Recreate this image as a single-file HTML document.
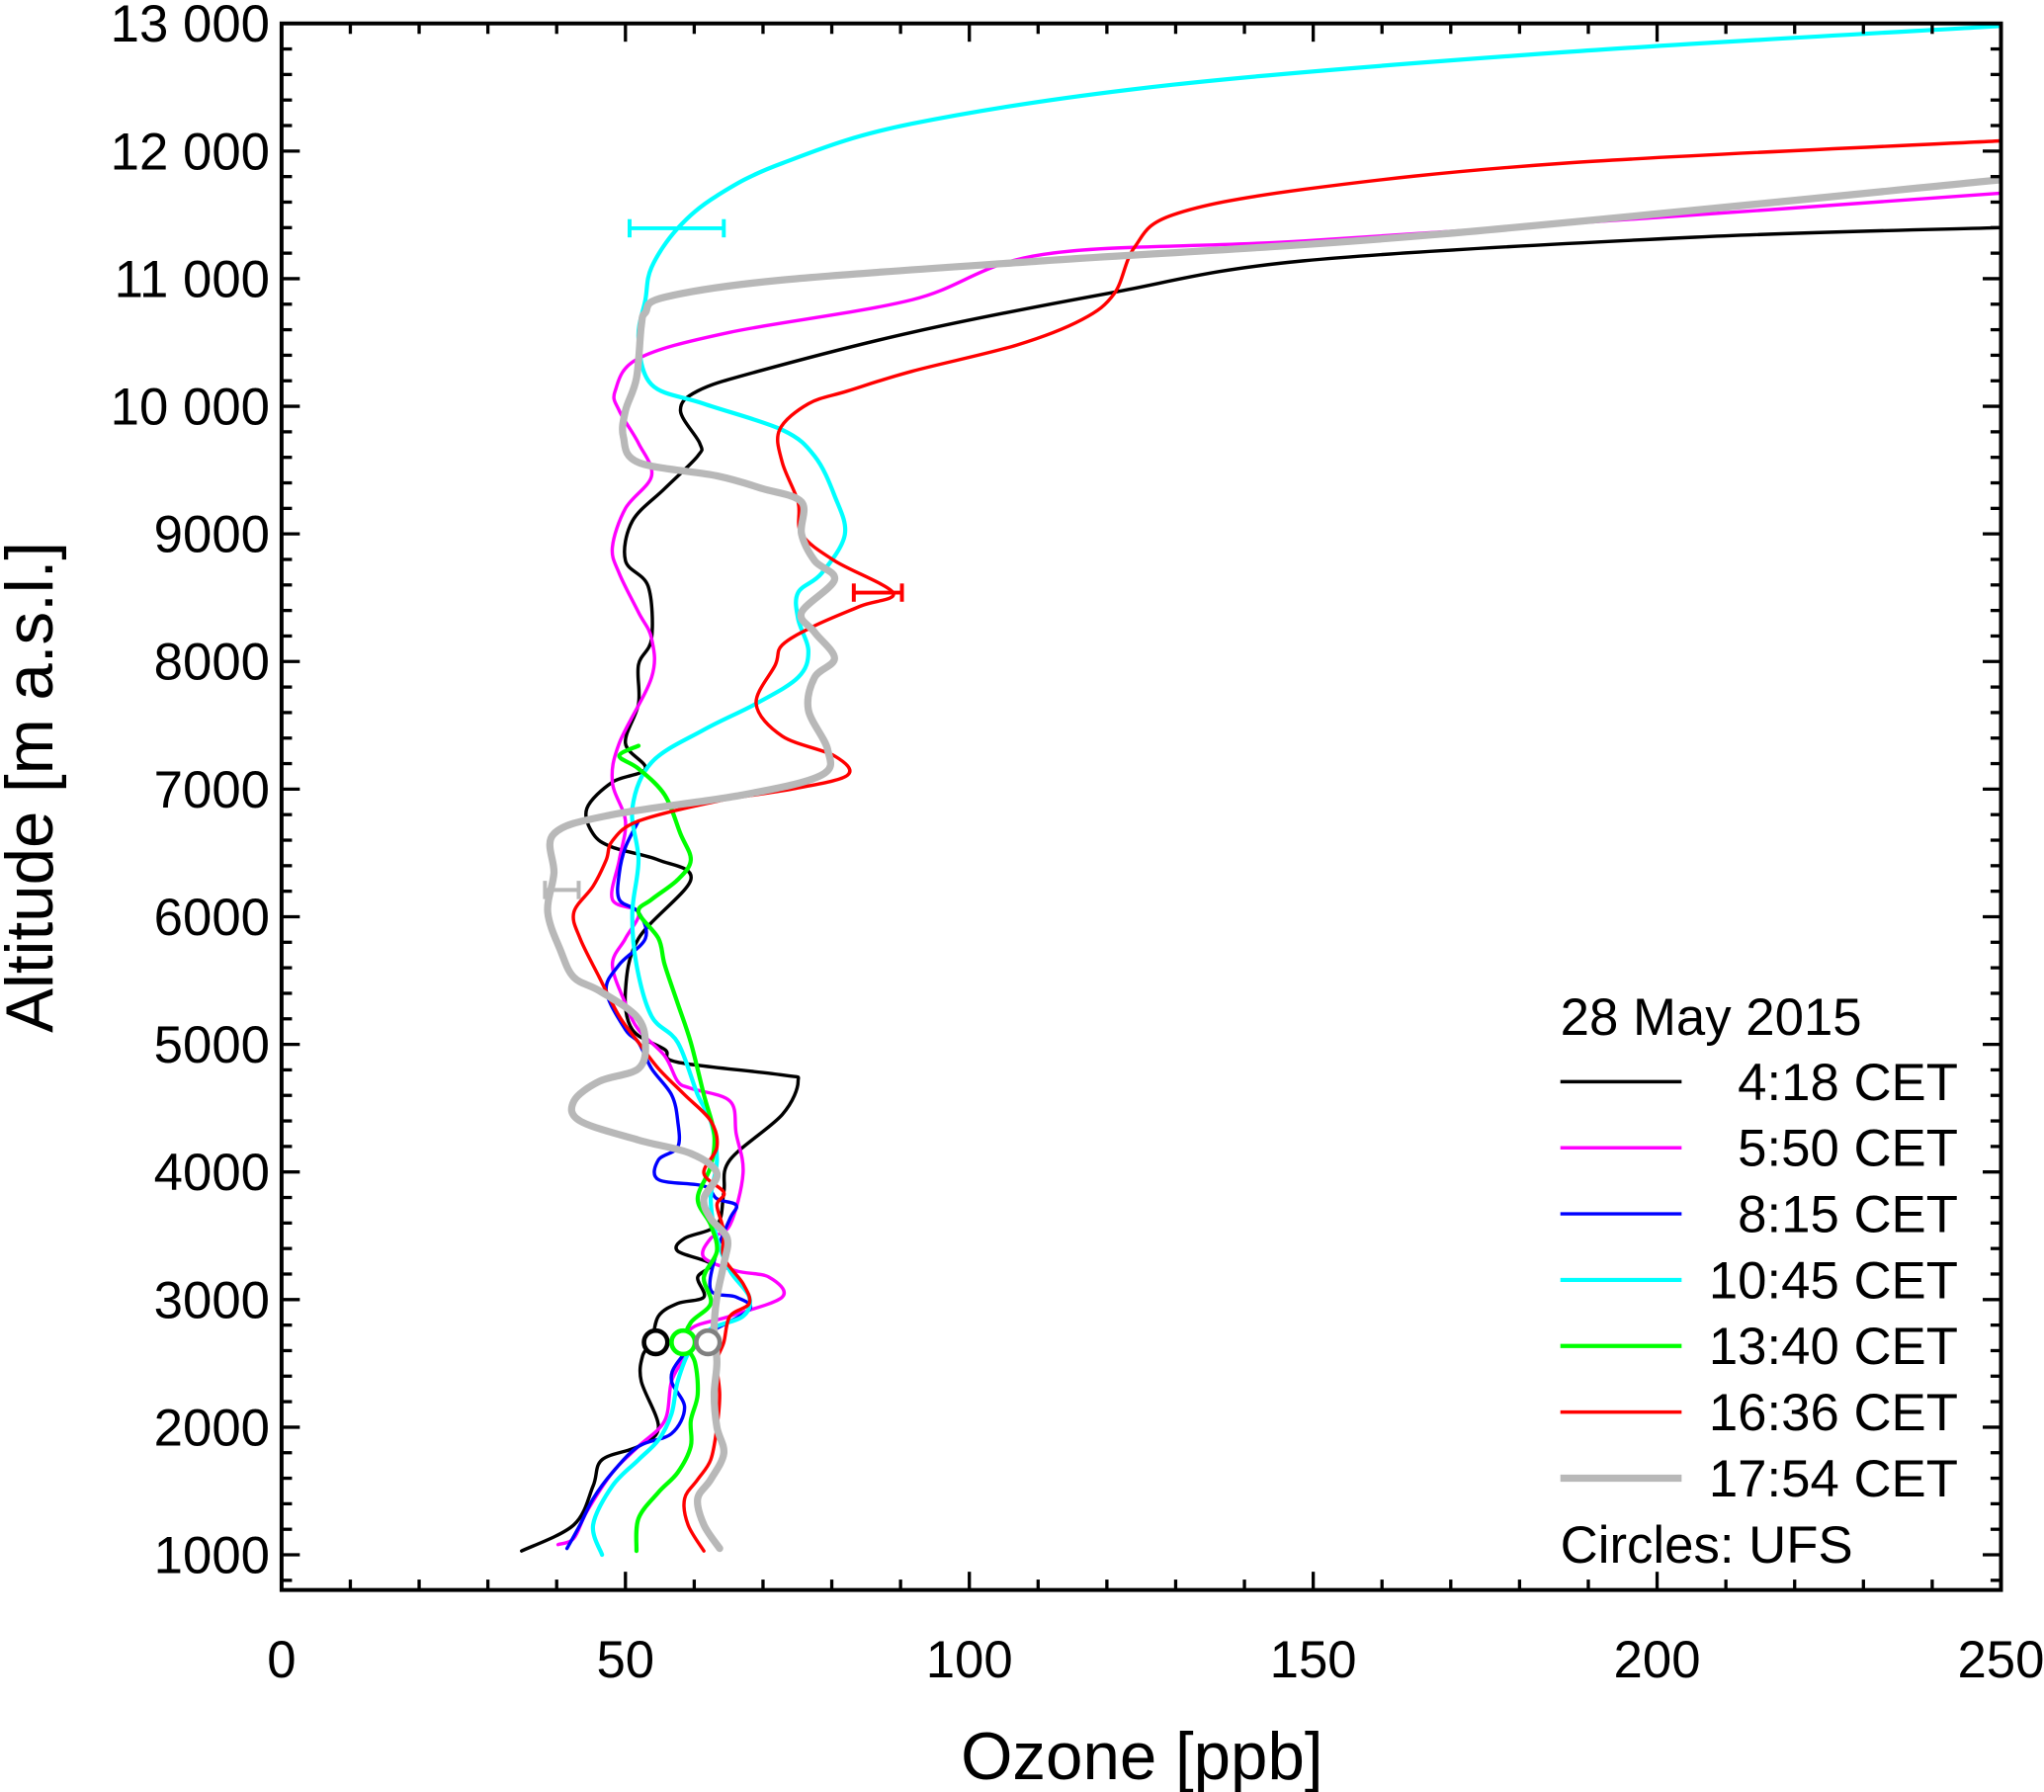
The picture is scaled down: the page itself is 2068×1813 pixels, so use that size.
<!DOCTYPE html>
<html><head><meta charset="utf-8"><style>
html,body{margin:0;padding:0;background:#fff}
svg{display:block}
text{font-family:"Liberation Sans",Arial,sans-serif;fill:#000}
</style></head><body>
<svg id="chart" xmlns="http://www.w3.org/2000/svg" width="2068" height="1813" viewBox="0 0 1568 1375" preserveAspectRatio="none">
<g id="series"></g>
<g id="axes"></g>
<g id="legend"></g>
</svg>
<script>
const xTicks=[0,50,100,150,200,250];
const yTicks=[1000,2000,3000,4000,5000,6000,7000,8000,9000,10000,11000,12000,13000];
const yTickLabels=["1000","2000","3000","4000","5000","6000","7000","8000","9000","10 000","11 000","12 000","13 000"];
const seriesNames=["4:18 CET","5:50 CET","8:15 CET","10:45 CET","13:40 CET","16:36 CET","17:54 CET"];
const seriesColors=["#000000","#ff00ff","#0000ff","#00ffff","#00ff00","#ff0000","#b8b8b8"];
const seriesWidths=[2.6,2.6,2.6,3.2,3.2,2.6,5.5];
const s418=[[34.9,1030],[42.5,1235],[45.3,1540],[46.6,1745],[51.9,1850],[54.8,2000],[52.3,2360],[52.5,2560],[53.8,2665],[54.8,2870],[57.6,2970],[61.4,3020],[60.5,3175],[62.4,3280],[57.6,3380],[58.6,3480],[63.3,3585],[64.3,3840],[65.2,4095],[72.8,4450],[75.1,4710],[72.8,4760],[57.6,4860],[55.7,4960],[51.0,5115],[50.0,5420],[51.9,5830],[59.5,6290],[54.8,6445],[48.1,6545],[45.3,6650],[44.4,6850],[48.1,7055],[52.9,7160],[50.0,7360],[51.9,7670],[51.9,7975],[53.8,8180],[53.3,8590],[50.0,8790],[51.0,9100],[55.7,9355],[60.5,9610],[60.8,9710],[58.0,9965],[60.5,10120],[69.0,10270],[91.7,10580],[120.2,10885],[148.6,11140],[205.5,11325],[250,11400]];
const s550=[[40.2,1080],[42.5,1130],[44.4,1340],[48.1,1645],[51.9,1850],[55.7,2050],[56.7,2360],[58.6,2560],[59.5,2770],[65.2,2870],[72.8,3020],[70.9,3175],[66.1,3225],[61.4,3330],[62.4,3480],[65.2,3585],[67.1,3990],[66.1,4300],[65.2,4555],[59.5,4655],[57.6,4710],[55.7,4910],[51.9,5115],[50.0,5320],[48.1,5625],[50.0,5830],[51.9,6035],[48.1,6135],[49.1,6445],[50.0,6750],[48.1,7055],[49.1,7360],[53.8,7875],[53.8,8180],[51.9,8385],[49.1,8690],[48.1,8895],[50.0,9200],[53.8,9455],[51.9,9710],[49.1,9965],[48.5,10120],[51.9,10375],[65.2,10580],[91.7,10835],[110.7,11190],[148.6,11295],[205.5,11500],[250,11670]];
const s815=[[41.5,1050],[43.4,1235],[45.3,1440],[48.1,1645],[51.9,1850],[56.7,1950],[58.6,2155],[56.7,2360],[57.6,2510],[61.4,2715],[68.0,2920],[66.1,3020],[62.4,3075],[63.3,3380],[65.2,3635],[66.1,3740],[63.3,3790],[61.4,3890],[54.8,3940],[54.8,4095],[57.6,4195],[57.6,4400],[56.7,4605],[53.8,4810],[51.9,5015],[50.0,5115],[47.2,5420],[49.1,5625],[52.9,5830],[51.9,6035],[49.1,6135],[49.1,6340],[50.0,6545],[51.9,6750]];
const s1045=[[46.6,1000],[45.3,1235],[48.1,1540],[51.9,1745],[54.8,1900],[56.7,2105],[57.6,2360],[59.5,2615],[62.4,2770],[67.1,2870],[68.0,3020],[65.2,3225],[63.3,3480],[62.4,3790],[63.3,4095],[62.4,4400],[60.5,4605],[57.6,5015],[53.8,5220],[51.6,5625],[51.0,6035],[51.9,6445],[51.0,6850],[53.8,7210],[61.4,7465],[69.0,7670],[75.1,7875],[76.6,8080],[75.1,8335],[75.1,8540],[78.5,8690],[81.9,8995],[80.4,9300],[77.5,9610],[72.8,9815],[61.4,10020],[53.8,10170],[51.9,10530],[52.9,10835],[53.8,11090],[57.6,11395],[63.3,11650],[72.8,11905],[91.7,12215],[129.6,12520],[186.5,12775],[250,12980]];
const s1340=[[51.6,1030],[51.9,1285],[54.8,1490],[57.6,1645],[59.5,1850],[59.5,2050],[60.5,2255],[60.1,2510],[58.6,2665],[59.5,2820],[62.4,2970],[61.4,3175],[63.3,3380],[62.4,3585],[60.5,3790],[62.4,4045],[62.9,4300],[61.4,4605],[59.5,5015],[57.6,5320],[55.7,5625],[54.8,5830],[51.9,6035],[53.8,6135],[57.6,6290],[59.5,6445],[58.0,6650],[55.7,6955],[51.9,7160],[49.1,7260],[51.9,7340]];
const s1636=[[61.4,1030],[59.1,1235],[58.6,1440],[60.5,1590],[62.4,1745],[63.3,2000],[63.7,2255],[63.3,2510],[64.3,2665],[65.2,2870],[68.0,2970],[67.1,3125],[64.3,3330],[64.3,3535],[63.3,3740],[64.3,3840],[61.4,3990],[63.3,4195],[62.4,4400],[58.6,4605],[54.8,4810],[51.9,5015],[49.1,5220],[46.2,5525],[43.4,5830],[42.5,6035],[45.3,6240],[47.2,6445],[48.1,6595],[51.9,6750],[63.3,6905],[74.7,7005],[82.3,7110],[80.4,7260],[72.8,7415],[69.0,7670],[71.8,7975],[72.8,8130],[77.5,8280],[84.2,8435],[88.9,8540],[80.4,8790],[75.6,9000],[75.1,9250],[72.8,9560],[72.4,9815],[76.6,10020],[82.3,10120],[91.7,10275],[106.9,10480],[116.4,10680],[121.1,10885],[124.0,11245],[129.6,11500],[148.6,11700],[186.5,11905],[250,12080]];
const s1754=[[63.7,1050],[61.4,1235],[60.5,1440],[62.4,1590],[64.3,1795],[63.3,2000],[62.9,2255],[63.3,2510],[62.9,2765],[63.3,3020],[64.3,3280],[64.8,3480],[62.4,3635],[61.4,3790],[63.3,3990],[59.5,4145],[51.9,4250],[43.4,4400],[42.5,4555],[46.2,4710],[51.9,4810],[52.9,5015],[51.6,5220],[46.2,5420],[42.5,5525],[40.6,5730],[38.7,6035],[39.6,6340],[39.6,6650],[48.1,6800],[67.1,6955],[78.5,7110],[79.4,7310],[76.6,7620],[77.5,7875],[80.4,8025],[77.5,8230],[75.6,8385],[80.4,8640],[77.5,8790],[75.6,9000],[75.6,9250],[69.9,9355],[63.3,9455],[51.9,9560],[49.7,9760],[50.0,9965],[51.6,10220],[52.3,10630],[52.9,10735],[55.7,10855],[72.8,10990],[110.7,11140],[167.6,11345],[250,11775]];
const allSeries=[s418,s550,s815,s1045,s1340,s1636,s1754];
const errLow=[50.6,83.2,38.3];
const errHigh=[64.3,90.2,43.2];
const errAlt=[11395,8540,6210];
const errSeries=[3,5,6];
const circleOzone=[54.4,58.4,62.0];
const circleAlt=[2665,2665,2665];
const circleSeries=[0,4,6];

const NS="http://www.w3.org/2000/svg";
const L=216,R=1535,T=18,B=1220;
const xs=v=>L+(v-0)/250*(R-L);
const ys=v=>1193-(v-1000)*(1175/12000);
function mk(tag,attrs,parent){const e=document.createElementNS(NS,tag);for(const k in attrs)e.setAttribute(k,attrs[k]);parent.appendChild(e);return e;}
const gS=document.getElementById('series'),gA=document.getElementById('axes'),gL=document.getElementById('legend');
function smooth(pts){
  const p=pts.map(d=>[xs(d[0]),ys(d[1])]);
  let d=`M${p[0][0]},${p[0][1]}`;
  for(let i=0;i<p.length-1;i++){
    const p0=p[Math.max(0,i-1)],p1=p[i],p2=p[i+1],p3=p[Math.min(p.length-1,i+2)];
    const c1=[p1[0]+(p2[0]-p0[0])/6,p1[1]+(p2[1]-p0[1])/6];
    const c2=[p2[0]-(p3[0]-p1[0])/6,p2[1]-(p3[1]-p1[1])/6];
    d+=`C${c1[0]},${c1[1]} ${c2[0]},${c2[1]} ${p2[0]},${p2[1]}`;
  }
  return d;
}
const cp=mk('clipPath',{id:'clip'},gS);mk('rect',{x:L,y:T,width:R-L,height:B-T},cp);
const gClip=mk('g',{'clip-path':'url(#clip)'},gS);
allSeries.forEach((s,i)=>{
  const e=mk('path',{d:smooth(s),fill:'none',stroke:seriesColors[i],'stroke-width':seriesWidths[i],'stroke-linejoin':'round','stroke-linecap':'round'},gClip);
  
  
});
errAlt.forEach((a,i)=>{
  const g=mk('g',{stroke:seriesColors[errSeries[i]],'stroke-width':3},gS);
  
  
  const y=ys(a);
  mk('line',{x1:xs(errLow[i]),x2:xs(errHigh[i]),y1:y,y2:y},g);
  mk('line',{x1:xs(errLow[i]),x2:xs(errLow[i]),y1:y-7,y2:y+7},g);
  mk('line',{x1:xs(errHigh[i]),x2:xs(errHigh[i]),y1:y-7,y2:y+7},g);
});
circleOzone.forEach((o,i)=>{
  const c=mk('circle',{cx:xs(o),cy:ys(circleAlt[i]),r:9,fill:'#fff',stroke:i==2?'#808080':seriesColors[circleSeries[i]],'stroke-width':3.5},gS);
  
  
});
const fr=mk('rect',{x:L,y:T,width:R-L,height:B-T,fill:'none',stroke:'#000','stroke-width':3},gA);


for(let v=0;v<=250;v+=10){
  const x=xs(v),len=(v%50===0)?14:8;
  mk('line',{x1:x,x2:x,y1:B,y2:B-len,stroke:'#000','stroke-width':2.5},gA);
  mk('line',{x1:x,x2:x,y1:T,y2:T+len,stroke:'#000','stroke-width':2.5},gA);
}
for(let v=800;v<=13000;v+=200){
  const y=ys(v),len=(v%1000===0)?14:8;
  mk('line',{x1:L,x2:L+len,y1:y,y2:y,stroke:'#000','stroke-width':2.5},gA);
  mk('line',{x1:R,x2:R-len,y1:y,y2:y,stroke:'#000','stroke-width':2.5},gA);
}
xTicks.forEach(v=>{
  const t=mk('text',{x:xs(v),y:1287,'font-size':40,'text-anchor':'middle'},gA);t.textContent=v;
  
  
});
yTicks.forEach((v,i)=>{
  const t=mk('text',{x:207,y:ys(v)+14,'font-size':40,'text-anchor':'end'},gA);t.textContent=yTickLabels[i];
  
  
});
const xt=mk('text',{x:876,y:1365,'font-size':51,'text-anchor':'middle'},gA);xt.textContent='Ozone [ppb]';


const yt=mk('text',{x:0,y:0,'font-size':51,'text-anchor':'middle',transform:'translate(40,604) rotate(-90)'},gA);yt.textContent='Altitude [m a.s.l.]';


const lt=mk('text',{x:1197,y:794,'font-size':40},gL);lt.textContent='28 May 2015';


seriesNames.forEach((n,i)=>{
  const y=830+i*50.7;
  const g=mk('g',{},gL);
  
  
  mk('line',{x1:1197,x2:1290,y1:y,y2:y,stroke:seriesColors[i],'stroke-width':seriesWidths[i]},g);
  const t=mk('text',{x:1502,y:y+14,'font-size':40,'text-anchor':'end'},g);t.textContent=n;
});
const cf=mk('text',{x:1197,y:1199,'font-size':40},gL);cf.textContent='Circles: UFS';


</script>
</body></html>
